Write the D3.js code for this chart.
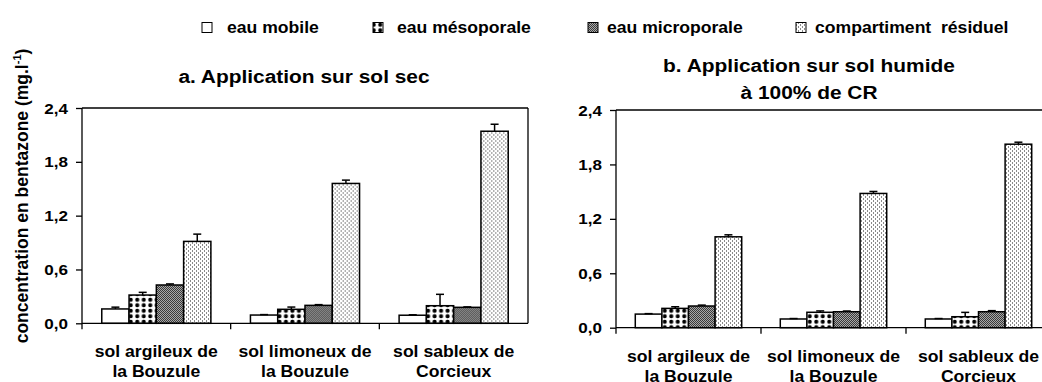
<!DOCTYPE html>
<html>
<head>
<meta charset="utf-8">
<script src="https://cdn.jsdelivr.net/npm/d3@7"></script>
<style>
  body { margin: 0; background: #fff; }
  svg { display: block; font-family: "Liberation Sans", Arial, sans-serif; font-weight: bold; }
  text { white-space: pre; }
</style>
</head>
<body>
<div id="plot"></div>
<script>
// data
const categories = [
  ["sol argileux de", "la Bouzule"],
  ["sol limoneux de", "la Bouzule"],
  ["sol sableux de", "Corcieux"]
];
const series = ["eau mobile", "eau mésoporale", "eau microporale", "compartiment  résiduel"];
const yTicks = [0, 0.6, 1.2, 1.8, 2.4];

const dryValues = [[0.16, 0.315, 0.427, 0.913], [0.092, 0.156, 0.2, 1.559], [0.09, 0.196, 0.178, 2.141]];
const dryErrors = [[0.02, 0.03, 0.012, 0.081], [0.005, 0.025, 0.008, 0.037], [0.005, 0.127, 0.005, 0.078]];
const wetValues = [[0.15, 0.213, 0.239, 1.002], [0.096, 0.17, 0.176, 1.48], [0.096, 0.121, 0.176, 2.023]];
const wetErrors = [[0.005, 0.018, 0.01, 0.022], [0.005, 0.015, 0.008, 0.022], [0.005, 0.048, 0.012, 0.022]];

const titleA = ["a. Application sur sol sec"];
const titleB = ["b. Application sur sol humide", "à 100% de CR"];

const width = 1042, height = 382;
const sx = 1.1; // reference text is a bit wide

const svg = d3.select("#plot").append("svg")
  .attr("width", width).attr("height", height);

const defs = svg.append("defs");

// mesoporale: black dots on white
const pMeso = defs.append("pattern").attr("id", "pMeso")
  .attr("patternUnits", "userSpaceOnUse").attr("width", 6.5).attr("height", 5.5);
pMeso.append("rect").attr("width", 6.5).attr("height", 5.5).attr("fill", "#fff");
pMeso.append("circle").attr("cx", 3.25).attr("cy", 2.75).attr("r", 2.1).attr("fill", "#000");

// microporale: fine dark checker
const pMicro = defs.append("pattern").attr("id", "pMicro")
  .attr("patternUnits", "userSpaceOnUse").attr("width", 2).attr("height", 2);
pMicro.append("rect").attr("width", 2).attr("height", 2).attr("fill", "#a8a8a8");
pMicro.append("rect").attr("width", 1).attr("height", 1).attr("fill", "#3a3a3a");
pMicro.append("rect").attr("x", 1).attr("y", 1).attr("width", 1).attr("height", 1).attr("fill", "#3a3a3a");

// residuel: light dashes
const pRes = defs.append("pattern").attr("id", "pRes")
  .attr("patternUnits", "userSpaceOnUse").attr("width", 4).attr("height", 4);
pRes.append("rect").attr("width", 4).attr("height", 4).attr("fill", "#fff");
pRes.append("rect").attr("x", 0).attr("y", 0).attr("width", 1).attr("height", 2).attr("fill", "#8a8a8a");
pRes.append("rect").attr("x", 2).attr("y", 2).attr("width", 1).attr("height", 2).attr("fill", "#8a8a8a");

const fills = ["#fff", "url(#pMeso)", "url(#pMicro)", "url(#pRes)"];

function hText(g, x, y, str, size, anchor) {
  return g.append("text")
    .attr("transform", `translate(${x},${y}) scale(${sx},1)`)
    .attr("text-anchor", anchor || "middle")
    .attr("font-size", size)
    .attr("fill", "#000")
    .text(str);
}

function panel(opt, values, errors) {
  const g = svg.append("g");
  const x0 = d3.scaleBand().domain(d3.range(categories.length)).range([opt.left, opt.right]);
  const bw = x0.bandwidth();
  const x1 = d3.scaleBand().domain(d3.range(series.length)).range([bw * 0.133, bw * 0.867]);
  const y = d3.scaleLinear().domain([0, 2.4]).range([opt.bottom, opt.top]);

  // frame top / right
  g.append("line").attr("x1", opt.left).attr("x2", opt.right)
    .attr("y1", y(2.4)).attr("y2", y(2.4)).attr("stroke", "#000").attr("stroke-width", 1.3);
  g.append("line").attr("x1", opt.right).attr("x2", opt.right)
    .attr("y1", y(2.4)).attr("y2", y(0)).attr("stroke", "#000").attr("stroke-width", 1.3);

  // bars
  const groups = g.selectAll("g.cat").data(values).enter().append("g")
    .attr("class", "cat")
    .attr("transform", (d, i) => `translate(${x0(i)},0)`);

  groups.selectAll("rect").data(d => d).enter().append("rect")
    .attr("x", (d, j) => x1(j))
    .attr("y", d => y(d))
    .attr("width", x1.bandwidth())
    .attr("height", d => y(0) - y(d))
    .attr("fill", (d, j) => fills[j])
    .attr("stroke", "#000")
    .attr("stroke-width", 1.5);

  // error bars (upper only)
  groups.each(function(d, i) {
    const eg = d3.select(this);
    d.forEach((v, j) => {
      const cx = x1(j) + x1.bandwidth() / 2;
      const top = y(v + errors[i][j]);
      eg.append("line").attr("x1", cx).attr("x2", cx).attr("y1", y(v)).attr("y2", top)
        .attr("stroke", "#000").attr("stroke-width", 1.5);
      eg.append("line").attr("x1", cx - 4).attr("x2", cx + 4).attr("y1", top).attr("y2", top)
        .attr("stroke", "#000").attr("stroke-width", 1.5);
    });
  });

  // y axis
  const yAxis = g.append("g").attr("transform", `translate(${opt.left},0)`)
    .call(d3.axisLeft(y).tickValues(yTicks).tickSize(6).tickFormat(d3.format(".1f")));
  yAxis.select(".domain").attr("stroke", "#000").attr("stroke-width", 1.3)
    .attr("d", `M0,${y(2.4)}V${y(0) + 6}`);
  yAxis.selectAll(".tick line").attr("stroke", "#000").attr("stroke-width", 1.3);
  yAxis.selectAll(".tick text").remove();
  yTicks.forEach(t => {
    hText(g, opt.left - 14, y(t) + 5.5, d3.format(".1f")(t).replace(".", ","), 15.5, "end");
  });

  // x axis
  g.append("line").attr("x1", opt.left).attr("x2", opt.right)
    .attr("y1", y(0)).attr("y2", y(0)).attr("stroke", "#000").attr("stroke-width", 1.3);
  categories.forEach((c, i) => {
    const bx = x0(i);
    if (i > 0) {
      g.append("line").attr("x1", bx).attr("x2", bx).attr("y1", y(0)).attr("y2", y(0) + 6)
        .attr("stroke", "#000").attr("stroke-width", 1.3);
    }
    c.forEach((line, k) => {
      hText(g, bx + bw / 2, y(0) + 34 + k * 20, line, 16);
    });
  });

  // title
  opt.title.forEach((line, k) => {
    hText(g, opt.titleX, opt.titleY + k * 26.5, line, 19);
  });
}

panel({ left: 82, right: 528, top: 108, bottom: 323.3, title: titleA, titleX: 304, titleY: 83 }, dryValues, dryErrors);
panel({ left: 616, right: 1051, top: 110, bottom: 327.7, title: titleB, titleX: 809, titleY: 72 }, wetValues, wetErrors);

// legend
const legendSquareX = [202, 373, 588, 796];
const legendTextX = [227, 397, 607, 815];
const legend = svg.append("g");
series.forEach((s, i) => {
  legend.append("rect")
    .attr("x", legendSquareX[i]).attr("y", 22.5).attr("width", 10).attr("height", 10)
    .attr("fill", fills[i]).attr("stroke", "#000").attr("stroke-width", 1);
  hText(legend, legendTextX[i], 33, s, 16, "start");
});

// y label
const yl = svg.append("text")
  .attr("transform", "translate(28,196) rotate(-90)")
  .attr("text-anchor", "middle")
  .attr("font-size", 17.5)
  .attr("fill", "#000");
yl.append("tspan").text("concentration en bentazone (mg.l");
yl.append("tspan").attr("font-size", 11).attr("dy", -7).text("-1");
yl.append("tspan").attr("dy", 7).text(")");
</script>
</body>
</html>
